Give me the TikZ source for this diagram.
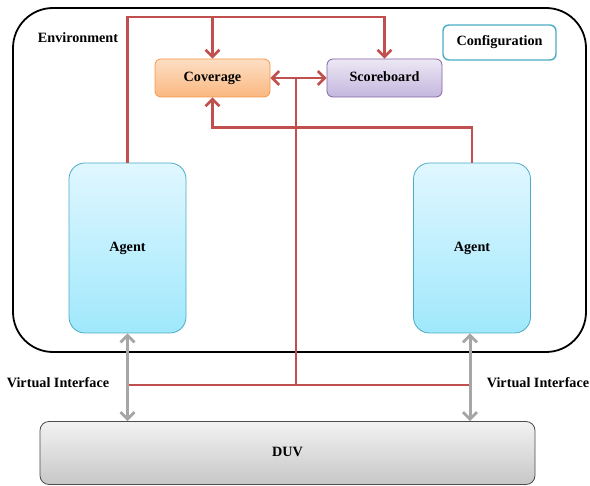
\documentclass[tikz,border=0pt]{standalone}
\usepackage{fontspec}
\setmainfont{Liberation Serif}
\usetikzlibrary{arrows.meta}
\definecolor{redl}{HTML}{C0504D}
\definecolor{grayl}{HTML}{A6A6A6}
\definecolor{tealc}{HTML}{4BACC6}
\definecolor{orgb}{RGB}{247,150,70}
\definecolor{orgt}{RGB}{253,222,196}
\definecolor{orgd}{RGB}{250,184,128}
\tikzset{
  lbl/.style={font=\fontsize{14.2}{16}\selectfont\bfseries},
  box/.style={draw, rounded corners=6pt, line width=0.8pt, lbl, inner sep=0pt, text height=10pt, text depth=3pt},
  covbox/.style={box, draw=orgb, top color=orgt, bottom color=orgd,
    minimum width=115pt, minimum height=38pt},
  scbox/.style={box, draw={rgb,255:red,128;green,100;blue,162}, top color={rgb,255:red,236;green,232;blue,244}, bottom color={rgb,255:red,196;green,182;blue,222},
    minimum width=115pt, minimum height=38pt},
  agbox/.style={box, rounded corners=16pt, draw=tealc, top color={rgb,255:red,224;green,247;blue,255}, bottom color={rgb,255:red,160;green,232;blue,252},
    minimum width=117pt, minimum height=170pt},
  cfgbox/.style={box, draw=tealc, line width=1.4pt, fill=white, minimum width=113pt, minimum height=35pt},
  duvbox/.style={box, rounded corners=9pt, draw=black!70, top color=black!5, bottom color=black!22,
    minimum width=495pt, minimum height=63pt},
  redline/.style={draw=redl, line width=2.8pt},
  redarrow/.style={redline, -{Straight Barb[length=7pt,width=14pt,line width=2.6pt]}},
  redboth/.style={redline, {Straight Barb[length=7pt,width=14pt,line width=2.6pt]}-{Straight Barb[length=7pt,width=14pt,line width=2.6pt]}},
  grayboth/.style={draw=grayl, line width=3pt, {Straight Barb[length=7pt,width=14pt,line width=2.8pt]}-{Straight Barb[length=7pt,width=14pt,line width=2.8pt]}},
}
\begin{document}
\begin{tikzpicture}[x=1pt,y=-1pt]
\useasboundingbox (0,0) rectangle (590,486);
\node[draw=black, line width=1.8pt, rounded corners=40pt, minimum width=573pt, minimum height=344pt] (env) at (299.5,180) {};
\node[lbl] (envlbl) at (78,38) {Environment};
\node[cfgbox] (cfg) at (499.5,42.5) {Configuration};
\node[covbox] (cov) at (212.5,78) {Coverage};
\node[scbox] (score) at (384.5,78) {Scoreboard};
\node[agbox] (agL) at (127.5,248) {Agent};
\node[agbox] (agR) at (472,248) {Agent};
\node[duvbox] (duv) at (287.5,453) {DUV};
\node[lbl] (vil) at (58,383) {Virtual Interface};
\node[lbl] (vir) at (538,383) {Virtual Interface};
% red connectors
\coordinate (jtop) at (212.5,17);
\coordinate (hubL) at (127.5,385);
\coordinate (hubR) at (470,385);
\coordinate (hubM) at (296,385);
\coordinate (hubT) at (296,78);
\draw[redarrow] (agL.north) -- (agL.north |- jtop) -| (score.north);
\draw[redarrow] (jtop) -- (cov.north);
\draw[redarrow] (agR.north) -- ++(0,-35) -| (cov.south);
\draw[redline] (hubL) -- (hubR);
\draw[redline] (hubM) -- (hubT);
\draw[redboth] (cov.east) -- (score.west);
% gray interfaces
\draw[grayboth] (agL.south) -- (agL.south |- duv.north);
\draw[grayboth] ([xshift=-2pt]agR.south) -- ([xshift=-2pt]agR.south |- duv.north);
\end{tikzpicture}
\end{document}
